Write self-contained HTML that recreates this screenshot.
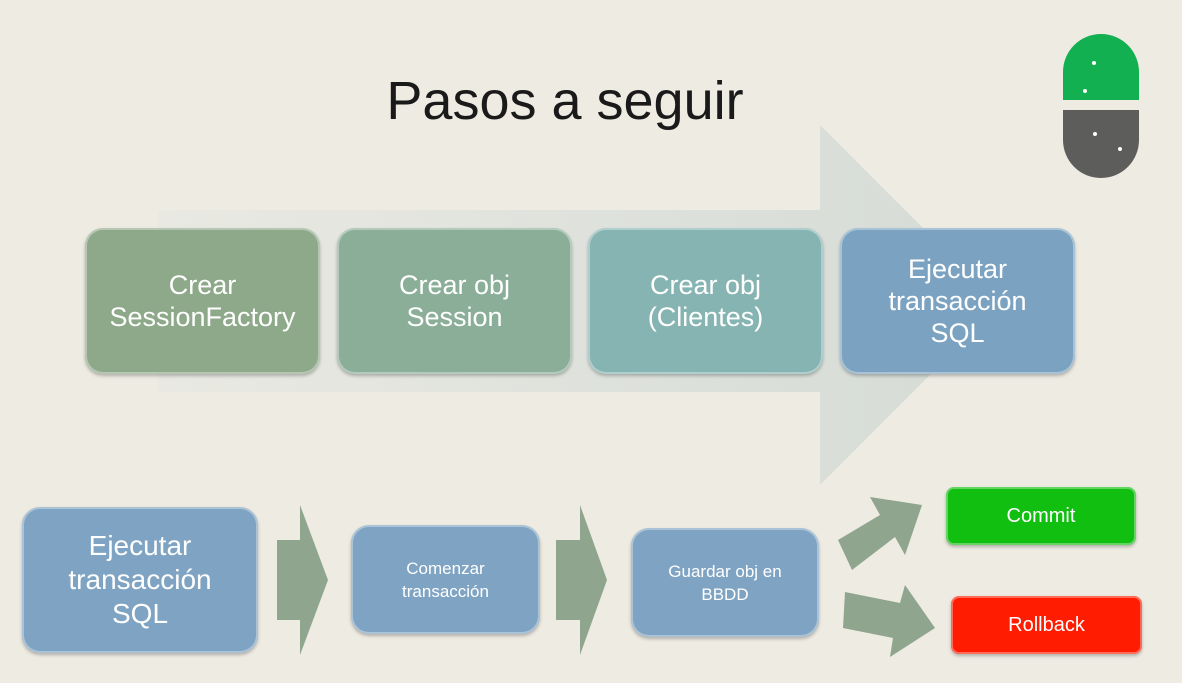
<!DOCTYPE html>
<html><head><meta charset="utf-8"><style>
body{margin:0;width:1182px;height:683px;background:#eeebe2;position:relative;overflow:hidden;font-family:"Liberation Sans",sans-serif}
.b{position:absolute;border-radius:18px;color:#fff;display:flex;align-items:center;justify-content:center;text-align:center;box-shadow:0 2px 3px rgba(0,0,0,.25),inset 0 0 0 2px rgba(255,255,255,.35)}
.t{font-size:27px;line-height:32px}
</style></head><body>
<svg width="1182" height="683" style="position:absolute;left:0;top:0">
<defs><linearGradient id="g" x1="0" y1="0" x2="1" y2="0"><stop offset="0" stop-color="#e9e9e2"/><stop offset="1" stop-color="#d5dbd6"/></linearGradient></defs>
<polygon points="158,210 820,210 820,125 1000,305 820,485 820,392 158,392" fill="url(#g)"/>
<polygon points="277,540 300,540 300,505 328,580 300,655 300,620 277,620" fill="#8fa58d"/>
<polygon points="556,540 580,540 580,505 607,580 580,655 580,620 556,620" fill="#8fa58d"/>
<polygon points="838,540 880,515 870,497 922,505 905,555 895,537 852,570" fill="#8fa58d"/>
<polygon points="845,592 900,603 905,585 935,628 890,657 893,638 843,628" fill="#8fa58d"/>
<g>
<path d="M1063,100 V72 a38,38 0 0 1 76,0 V100 Z" fill="#12b050"/>
<path d="M1063,110 V140 a38,38 0 0 0 76,0 V110 Z" fill="#5d5d5b"/>
<circle cx="1094" cy="63" r="2" fill="#fff"/><circle cx="1085" cy="91" r="2" fill="#fff"/>
<circle cx="1095" cy="134" r="2" fill="#fff"/><circle cx="1120" cy="149" r="2" fill="#fff"/>
</g>
</svg>
<div style="position:absolute;left:0;width:1130px;top:70px;text-align:center;font-size:54px;color:#1a1a1a">Pasos a seguir</div>
<div class="b t" style="left:85px;top:228px;width:235px;height:146px;background:#8ea98a">Crear<br>SessionFactory</div>
<div class="b t" style="left:337px;top:228px;width:235px;height:146px;background:#8aae98">Crear obj<br>Session</div>
<div class="b t" style="left:588px;top:228px;width:235px;height:146px;background:#86b4b2">Crear obj<br>(Clientes)</div>
<div class="b t" style="left:840px;top:228px;width:235px;height:146px;background:#7ba3c1">Ejecutar<br>transacción<br>SQL</div>
<div class="b" style="left:22px;top:507px;width:236px;height:146px;background:#7fa3c2;font-size:28px;line-height:34px">Ejecutar<br>transacción<br>SQL</div>
<div class="b" style="left:351px;top:525px;width:189px;height:109px;background:#7fa3c2;font-size:17px;line-height:23px">Comenzar<br>transacción</div>
<div class="b" style="left:631px;top:528px;width:188px;height:109px;background:#7fa3c2;font-size:17px;line-height:23px">Guardar obj en<br>BBDD</div>
<div class="b" style="left:946px;top:487px;width:190px;height:58px;background:#10bf10;font-size:20px;border-radius:8px">Commit</div>
<div class="b" style="left:951px;top:596px;width:191px;height:58px;background:#ff1c00;font-size:20px;border-radius:8px">Rollback</div>
</body></html>
